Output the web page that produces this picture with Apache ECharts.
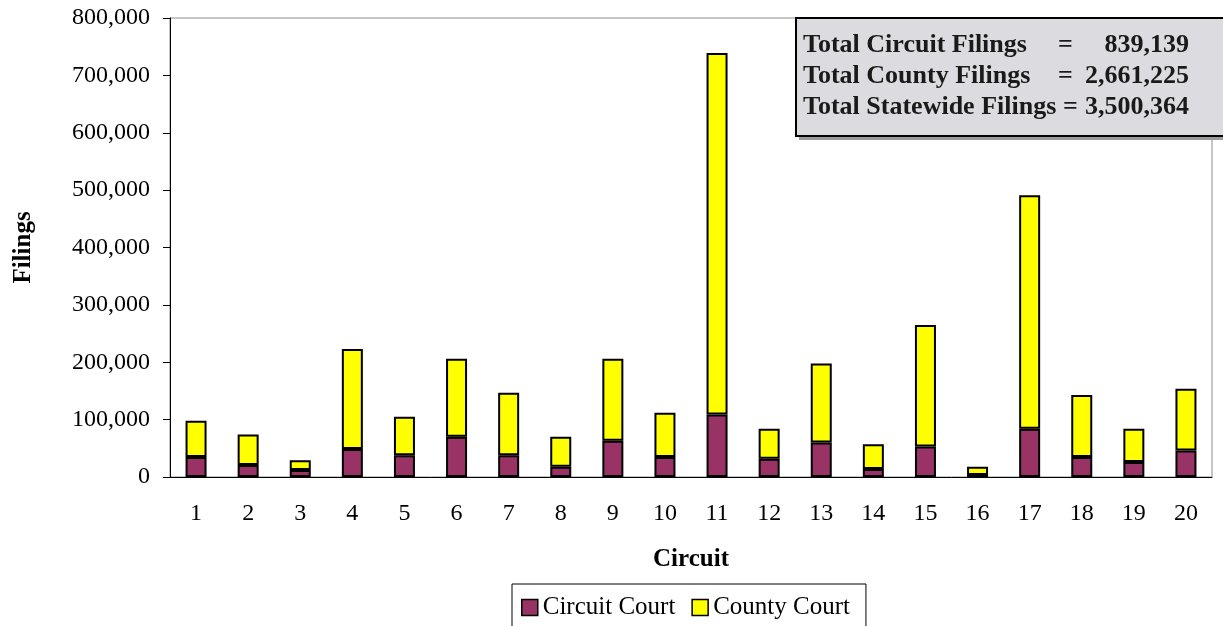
<!DOCTYPE html>
<html lang="en">
<head>
  <meta charset="UTF-8">
  <title>Filings by Circuit</title>
  <style>
    html, body { margin: 0; padding: 0; background: #fff; }
    #main { width: 1223px; height: 626px; }
  </style>
</head>
<body>
  <div id="main"></div>
  <script src="https://cdn.jsdelivr.net/npm/echarts@6/dist/echarts.min.js"></script>
  <script>
    // data
    var circuits = ['1', '2', '3', '4', '5', '6', '7', '8', '9', '10',
                    '11', '12', '13', '14', '15', '16', '17', '18', '19', '20'];
    var circuitCourt = [35000, 21000, 12000, 49000, 38000, 70000, 38000, 18000, 63000, 35000,
                        109000, 32000, 60000, 14000, 53000, 3500, 84000, 35000, 26000, 46000];
    var countyCourt = [63000, 53000, 17000, 174000, 67000, 136000, 109000, 52000, 143000, 77000,
                       630000, 52000, 138000, 43000, 212000, 14500, 407000, 108000, 58000, 108000];
    var totalLabels = ['Total Circuit Filings', 'Total County Filings', 'Total Statewide Filings'];
    var totalValues = ['839,139', '2,661,225', '3,500,364'];

    var serif = '"Liberation Serif", "Times New Roman", serif';

    var myChart = echarts.init(document.getElementById('main'));

    // gray box with the totals, top right
    var boxItems = [{
      type: 'rect',
      shape: { x: 799, y: 21, width: 430, height: 119 },
      style: { fill: '#9a9a9a' },
      z: 10
    }, {
      type: 'rect',
      shape: { x: 796, y: 18, width: 430, height: 118 },
      style: { fill: '#dcdce0', stroke: '#000', lineWidth: 2 },
      z: 11
    }];
    var eqX = [1058, 1058, 1063];
    for (var i = 0; i < totalLabels.length; i++) {
      var y = 45 + i * 31;
      boxItems.push({
        type: 'text', x: 803, y: y, z: 12,
        style: { text: totalLabels[i], font: 'bold 26px ' + serif, fill: '#1a1a1a', verticalAlign: 'middle' }
      });
      boxItems.push({
        type: 'text', x: eqX[i], y: y, z: 12,
        style: { text: '=', font: 'bold 26px ' + serif, fill: '#1a1a1a', verticalAlign: 'middle' }
      });
      boxItems.push({
        type: 'text', x: 1189, y: y, z: 12,
        style: { text: totalValues[i], font: 'bold 26px ' + serif, fill: '#1a1a1a', align: 'right', verticalAlign: 'middle' }
      });
    }

    var option = {
      animation: false,
      textStyle: { fontFamily: serif },
      grid: {
        left: 170, right: 11, top: 18, bottom: 149,
        show: true, borderColor: '#8c8c8c', borderWidth: 1
      },
      legend: {
        data: ['Circuit Court', 'County Court'],
        left: 512, top: 584,
        padding: [11, 16, 12, 9],
        itemWidth: 16, itemHeight: 16, itemGap: 16,
        borderColor: '#000', borderWidth: 1,
        icon: 'rect',
        itemStyle: { borderColor: '#000', borderWidth: 1.5 },
        textStyle: { fontSize: 25, color: '#000', fontFamily: serif }
      },
      xAxis: {
        type: 'category',
        data: circuits,
        name: 'Circuit',
        nameLocation: 'middle',
        nameGap: 70,
        nameTextStyle: { fontSize: 25, fontWeight: 'bold', color: '#000', fontFamily: serif },
        axisLine: { lineStyle: { color: '#000', width: 1 } },
        axisTick: { length: 7, lineStyle: { color: '#000' } },
        axisLabel: { fontSize: 24, color: '#000', margin: 25, fontFamily: serif }
      },
      yAxis: {
        type: 'value',
        min: 0, max: 800000, interval: 100000,
        name: 'Filings',
        nameLocation: 'middle',
        nameGap: 134,
        nameTextStyle: { fontSize: 25, fontWeight: 'bold', color: '#000', fontFamily: serif },
        axisLine: { show: true, lineStyle: { color: '#000', width: 1 } },
        axisTick: { show: true, length: 7, lineStyle: { color: '#000' } },
        splitLine: { show: false },
        axisLabel: {
          fontSize: 24, color: '#000', margin: 20, fontFamily: serif,
          formatter: function (v) { return v.toLocaleString('en-US'); }
        }
      },
      series: [{
        name: 'Circuit Court',
        type: 'bar',
        stack: 'total',
        barWidth: 21,
        data: circuitCourt,
        itemStyle: { color: '#993366', borderColor: '#000', borderWidth: 2 }
      }, {
        name: 'County Court',
        type: 'bar',
        stack: 'total',
        barWidth: 21,
        data: countyCourt,
        itemStyle: { color: '#ffff00', borderColor: '#000', borderWidth: 2 }
      }],
      graphic: boxItems
    };

    myChart.setOption(option);
  </script>
</body>
</html>
